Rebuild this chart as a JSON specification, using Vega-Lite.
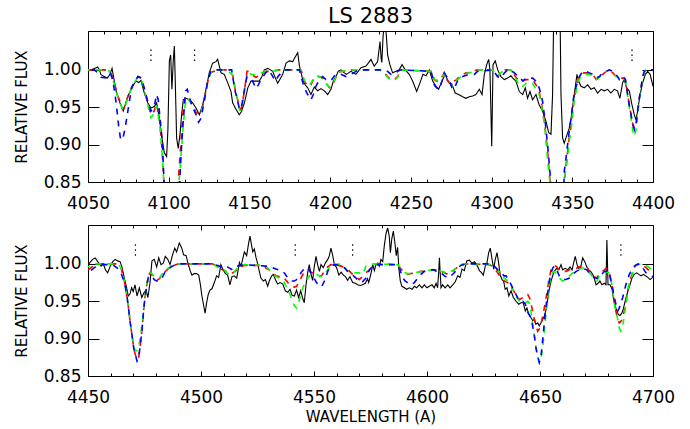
{
"$schema": "https://vega.github.io/schema/vega-lite/v6.json",
"background": "white",
"padding": {"left": 13, "top": 6, "right": 5, "bottom": 0},
"title": {"text": "LS 2883", "fontSize": 21, "font": "DejaVu Sans", "fontWeight": "normal", "color": "black", "offset": 3, "anchor": "middle", "frame": "group"},
"config": {"view": {"stroke": "black", "strokeWidth": 1}},
"bounds": "flush",
"spacing": 43,
"datasets": {
"tObs": [
{"w":4050,"f":1.0},{"w":4052,"f":1.0},{"w":4054,"f":1.002},{"w":4056,"f":1.004},{"w":4057,"f":1.0},{"w":4058,"f":0.994},{"w":4060,"f":0.991},{"w":4062,"f":0.989},{"w":4063.6,"f":0.994},{"w":4064.9,"f":1.002},{"w":4066.3,"f":0.985},{"w":4067.7,"f":0.969},{"w":4069.8,"f":0.956},{"w":4071.9,"f":0.945},{"w":4074,"f":0.96},{"w":4075.6,"f":0.969},{"w":4077.7,"f":0.978},{"w":4079.7,"f":0.985},{"w":4081.4,"f":0.983},{"w":4082.8,"f":0.986},{"w":4084.9,"f":0.969},{"w":4087,"f":0.956},{"w":4089,"f":0.949},{"w":4091.1,"f":0.951},{"w":4092.5,"f":0.956},{"w":4094.2,"f":0.936},{"w":4095.8,"f":0.909},{"w":4097.3,"f":0.889},{"w":4098.7,"f":0.884},{"w":4099.5,"f":0.92},{"w":4100.4,"f":1.012},{"w":4101.2,"f":1.02},{"w":4102,"f":0.974},{"w":4102.8,"f":1.012},{"w":4103.5,"f":1.032},{"w":4104,"f":0.99},{"w":4104.9,"f":0.909},{"w":4105.9,"f":0.895},{"w":4107,"f":0.914},{"w":4108,"f":0.94},{"w":4109,"f":0.96},{"w":4110.7,"f":0.962},{"w":4112.7,"f":0.96},{"w":4114.8,"f":0.956},{"w":4116.9,"f":0.949},{"w":4119,"f":0.94},{"w":4121,"f":0.953},{"w":4123.1,"f":0.974},{"w":4125.1,"f":0.996},{"w":4127.2,"f":1.009},{"w":4129.3,"f":1.011},{"w":4130.3,"f":1.014},{"w":4132.4,"f":0.996},{"w":4134.4,"f":0.994},{"w":4136.5,"f":0.983},{"w":4138.6,"f":0.971},{"w":4139.6,"f":0.956},{"w":4141.5,"f":0.948},{"w":4143.7,"f":0.94},{"w":4145,"f":0.944},{"w":4146.9,"f":0.956},{"w":4149,"f":0.976},{"w":4151,"f":0.985},{"w":4153,"f":0.985},{"w":4156.1,"f":0.985},{"w":4157.5,"f":0.99},{"w":4159.2,"f":1.0},{"w":4161.3,"f":1.002},{"w":4163,"f":1.0},{"w":4164.4,"f":0.998},{"w":4166.5,"f":0.987},{"w":4167.5,"f":0.982},{"w":4169.1,"f":0.988},{"w":4170.6,"f":0.994},{"w":4172.7,"f":1.009},{"w":4174.7,"f":1.012},{"w":4176.8,"f":1.011},{"w":4178,"f":1.016},{"w":4179.9,"f":1.023},{"w":4181,"f":1.005},{"w":4183,"f":0.987},{"w":4184.5,"f":0.98},{"w":4186.1,"f":0.976},{"w":4188.1,"f":0.967},{"w":4190.2,"f":0.977},{"w":4192.3,"f":0.972},{"w":4194.3,"f":0.975},{"w":4196.4,"f":0.972},{"w":4198.5,"f":0.967},{"w":4200.5,"f":0.974},{"w":4202,"f":0.985},{"w":4203.6,"f":0.991},{"w":4205,"f":0.998},{"w":4206.7,"f":1.0},{"w":4208.8,"f":0.996},{"w":4210,"f":0.994},{"w":4212.9,"f":0.998},{"w":4216,"f":0.994},{"w":4219.1,"f":1.003},{"w":4222.2,"f":1.005},{"w":4224,"f":1.01},{"w":4225.3,"f":1.014},{"w":4227.3,"f":1.005},{"w":4229.4,"f":1.011},{"w":4230.9,"f":1.038},{"w":4231.6,"f":1.015},{"w":4232,"f":1.01},{"w":4232.8,"f":1.045},{"w":4233.5,"f":1.06},{"w":4234.3,"f":1.06},{"w":4235,"f":1.04},{"w":4235.6,"f":1.02},{"w":4237,"f":1.007},{"w":4238.7,"f":0.996},{"w":4240.8,"f":0.998},{"w":4242.8,"f":1.0},{"w":4244.5,"f":1.007},{"w":4246.6,"f":1.0},{"w":4249,"f":0.994},{"w":4251.1,"f":0.985},{"w":4253.6,"f":0.971},{"w":4255.7,"f":0.983},{"w":4257.5,"f":0.994},{"w":4259.4,"f":0.992},{"w":4261.4,"f":1.0},{"w":4263.5,"f":0.985},{"w":4265.6,"f":0.978},{"w":4267.2,"f":0.974},{"w":4269.3,"f":0.985},{"w":4271.3,"f":0.994},{"w":4273.4,"f":0.983},{"w":4275.4,"f":0.981},{"w":4277.5,"f":0.969},{"w":4279.6,"f":0.967},{"w":4282.1,"f":0.964},{"w":4284.1,"f":0.962},{"w":4286.2,"f":0.964},{"w":4288.3,"f":0.965},{"w":4290.3,"f":0.967},{"w":4292.4,"f":0.974},{"w":4294.1,"f":0.967},{"w":4295.5,"f":0.994},{"w":4297,"f":1.007},{"w":4298.2,"f":1.014},{"w":4299,"f":1.0},{"w":4300.1,"f":0.898},{"w":4300.9,"f":1.007},{"w":4302.3,"f":1.012},{"w":4303.8,"f":1.0},{"w":4305.8,"f":0.991},{"w":4307.9,"f":0.987},{"w":4310,"f":0.989},{"w":4312,"f":0.992},{"w":4313.1,"f":0.989},{"w":4315.1,"f":0.985},{"w":4317.2,"f":0.971},{"w":4319.3,"f":0.967},{"w":4320.9,"f":0.976},{"w":4322.3,"f":0.962},{"w":4323.8,"f":0.971},{"w":4325.4,"f":0.96},{"w":4327.5,"f":0.967},{"w":4329.5,"f":0.953},{"w":4331.6,"f":0.945},{"w":4333.7,"f":0.931},{"w":4335.4,"f":0.916},{"w":4336.8,"f":0.914},{"w":4337.8,"f":0.967},{"w":4338.4,"f":1.06},{"w":4339,"f":1.1},{"w":4342,"f":1.1},{"w":4342.5,"f":1.06},{"w":4343,"f":0.967},{"w":4344,"f":0.909},{"w":4345,"f":0.902},{"w":4346.7,"f":0.913},{"w":4348.1,"f":0.922},{"w":4349.6,"f":0.94},{"w":4350.8,"f":0.96},{"w":4351.8,"f":0.976},{"w":4352.9,"f":0.994},{"w":4353.9,"f":0.985},{"w":4355.4,"f":0.978},{"w":4357.4,"f":0.976},{"w":4359.5,"f":0.98},{"w":4361.6,"f":0.974},{"w":4363.6,"f":0.976},{"w":4365.7,"f":0.969},{"w":4367.8,"f":0.974},{"w":4369.8,"f":0.972},{"w":4371.9,"f":0.974},{"w":4373.9,"f":0.969},{"w":4376,"f":0.974},{"w":4378,"f":0.972},{"w":4379.5,"f":0.962},{"w":4381.2,"f":0.983},{"w":4382.2,"f":0.987},{"w":4383.6,"f":0.976},{"w":4385.3,"f":0.972},{"w":4387,"f":0.953},{"w":4388.4,"f":0.94},{"w":4389.4,"f":0.933},{"w":4390.5,"f":0.945},{"w":4391.5,"f":0.96},{"w":4392.6,"f":0.973},{"w":4393.6,"f":0.983},{"w":4395.3,"f":0.994},{"w":4396.7,"f":0.998},{"w":4398.2,"f":0.994},{"w":4399.8,"f":0.98},{"w":4400,"f":0.978}
],
"tRed": [
{"w":4050,"f":1.0},{"w":4060,"f":1.0},{"w":4063,"f":0.999},{"w":4065,"f":0.992},{"w":4066,"f":0.985},{"w":4068,"f":0.969},{"w":4070,"f":0.956},{"w":4071.5,"f":0.947},{"w":4073,"f":0.951},{"w":4075,"f":0.967},{"w":4077,"f":0.976},{"w":4079,"f":0.985},{"w":4081,"f":0.991},{"w":4083,"f":0.989},{"w":4085,"f":0.974},{"w":4087,"f":0.956},{"w":4089,"f":0.94},{"w":4091,"f":0.945},{"w":4092.5,"f":0.955},{"w":4094.5,"f":0.93},{"w":4096,"f":0.89},{"w":4097,"f":0.85},{"w":4098,"f":0.8},{"w":4100,"f":0.7},{"w":4103,"f":0.7},{"w":4105,"f":0.8},{"w":4105.8,"f":0.85},{"w":4106.5,"f":0.87},{"w":4107.5,"f":0.9},{"w":4108.5,"f":0.935},{"w":4109.5,"f":0.955},{"w":4110.7,"f":0.965},{"w":4112,"f":0.962},{"w":4115,"f":0.953},{"w":4117,"f":0.943},{"w":4118.5,"f":0.942},{"w":4120,"f":0.943},{"w":4122,"f":0.96},{"w":4124,"f":0.983},{"w":4126,"f":0.996},{"w":4128,"f":0.998},{"w":4132,"f":1.0},{"w":4136,"f":1.0},{"w":4139.6,"f":0.993},{"w":4141.2,"f":0.973},{"w":4142.7,"f":0.96},{"w":4143.7,"f":0.949},{"w":4144.8,"f":0.947},{"w":4146,"f":0.96},{"w":4147.4,"f":0.98},{"w":4148.5,"f":0.998},{"w":4149.5,"f":0.998},{"w":4151,"f":0.994},{"w":4154,"f":0.99},{"w":4157,"f":0.994},{"w":4160,"f":0.998},{"w":4164,"f":0.998},{"w":4168,"f":1.0},{"w":4182,"f":1.0},{"w":4184,"f":0.985},{"w":4186.1,"f":0.978},{"w":4188.1,"f":0.98},{"w":4189.6,"f":0.987},{"w":4191.2,"f":0.991},{"w":4193.3,"f":0.991},{"w":4195.4,"f":0.989},{"w":4197.4,"f":0.983},{"w":4199.5,"f":0.976},{"w":4201.2,"f":0.978},{"w":4203,"f":0.987},{"w":4204.7,"f":0.996},{"w":4207,"f":0.998},{"w":4210,"f":0.998},{"w":4213,"f":1.0},{"w":4231,"f":1.0},{"w":4233.5,"f":0.996},{"w":4235.6,"f":0.991},{"w":4237.7,"f":0.987},{"w":4239.8,"f":0.987},{"w":4241.8,"f":0.991},{"w":4244,"f":1.0},{"w":4262.5,"f":0.998},{"w":4264.5,"f":0.987},{"w":4266,"f":0.985},{"w":4267.6,"f":0.985},{"w":4269.3,"f":0.991},{"w":4270.7,"f":0.996},{"w":4272.2,"f":0.987},{"w":4273.8,"f":0.983},{"w":4275.5,"f":0.98},{"w":4276.9,"f":0.985},{"w":4278.4,"f":0.987},{"w":4280,"f":0.991},{"w":4284.2,"f":0.996},{"w":4288,"f":0.997},{"w":4291,"f":1.0},{"w":4300.7,"f":1.0},{"w":4301.7,"f":0.996},{"w":4303.8,"f":0.991},{"w":4305.8,"f":0.996},{"w":4308,"f":1.0},{"w":4312,"f":1.0},{"w":4315.1,"f":0.99},{"w":4317.2,"f":0.985},{"w":4319.3,"f":0.985},{"w":4321.3,"f":0.987},{"w":4323.4,"f":0.987},{"w":4325.4,"f":0.987},{"w":4327.5,"f":0.98},{"w":4329.5,"f":0.971},{"w":4331.6,"f":0.947},{"w":4333.2,"f":0.922},{"w":4334.7,"f":0.891},{"w":4335.7,"f":0.864},{"w":4336.3,"f":0.85},{"w":4337.5,"f":0.8},{"w":4339.5,"f":0.7},{"w":4342.5,"f":0.7},{"w":4344,"f":0.8},{"w":4345,"f":0.85},{"w":4346,"f":0.87},{"w":4347.1,"f":0.89},{"w":4348.1,"f":0.91},{"w":4349.2,"f":0.925},{"w":4350.2,"f":0.945},{"w":4351.2,"f":0.962},{"w":4352.7,"f":0.978},{"w":4354.4,"f":0.991},{"w":4356.5,"f":0.996},{"w":4358.5,"f":0.996},{"w":4360.6,"f":0.996},{"w":4362.7,"f":0.994},{"w":4364.8,"f":0.987},{"w":4366.8,"f":0.989},{"w":4368.9,"f":0.994},{"w":4371,"f":0.998},{"w":4373,"f":1.0},{"w":4375.1,"f":0.996},{"w":4377.1,"f":0.991},{"w":4379.2,"f":0.989},{"w":4381.7,"f":0.989},{"w":4382.9,"f":0.987},{"w":4384.3,"f":0.967},{"w":4385.3,"f":0.953},{"w":4386.4,"f":0.94},{"w":4387.5,"f":0.927},{"w":4388.5,"f":0.922},{"w":4389.5,"f":0.927},{"w":4390.5,"f":0.945},{"w":4391.5,"f":0.962},{"w":4392.6,"f":0.976},{"w":4393.6,"f":0.991},{"w":4394.7,"f":0.998},{"w":4395.7,"f":1.0},{"w":4400,"f":1.0}
],
"tGreen": [
{"w":4050,"f":1.0},{"w":4060,"f":1.0},{"w":4063,"f":0.999},{"w":4065,"f":0.99},{"w":4066,"f":0.983},{"w":4068,"f":0.967},{"w":4070,"f":0.955},{"w":4071.5,"f":0.947},{"w":4073,"f":0.951},{"w":4075,"f":0.965},{"w":4077,"f":0.975},{"w":4079,"f":0.984},{"w":4081,"f":0.99},{"w":4083,"f":0.988},{"w":4085,"f":0.972},{"w":4087,"f":0.953},{"w":4089,"f":0.936},{"w":4091,"f":0.942},{"w":4092.5,"f":0.952},{"w":4094.5,"f":0.925},{"w":4096,"f":0.885},{"w":4097,"f":0.85},{"w":4098,"f":0.8},{"w":4100,"f":0.7},{"w":4103.5,"f":0.7},{"w":4105.5,"f":0.8},{"w":4106.3,"f":0.85},{"w":4107,"f":0.865},{"w":4108,"f":0.895},{"w":4109,"f":0.925},{"w":4110,"f":0.95},{"w":4111,"f":0.962},{"w":4112.5,"f":0.96},{"w":4115,"f":0.95},{"w":4117,"f":0.94},{"w":4118.5,"f":0.94},{"w":4120,"f":0.943},{"w":4122,"f":0.958},{"w":4124,"f":0.981},{"w":4126,"f":0.996},{"w":4128,"f":0.999},{"w":4130,"f":1.0},{"w":4136,"f":1.0},{"w":4139.6,"f":0.993},{"w":4141.2,"f":0.975},{"w":4142.7,"f":0.96},{"w":4143.7,"f":0.947},{"w":4144.8,"f":0.945},{"w":4146,"f":0.958},{"w":4147.4,"f":0.978},{"w":4148.5,"f":0.995},{"w":4149.5,"f":0.997},{"w":4151,"f":0.994},{"w":4154,"f":0.993},{"w":4157,"f":0.996},{"w":4160,"f":0.998},{"w":4164,"f":0.998},{"w":4168,"f":1.0},{"w":4182,"f":1.0},{"w":4184,"f":0.986},{"w":4186.1,"f":0.979},{"w":4188.1,"f":0.982},{"w":4189.6,"f":0.988},{"w":4191.2,"f":0.992},{"w":4193.3,"f":0.991},{"w":4195.4,"f":0.988},{"w":4197.4,"f":0.982},{"w":4199.5,"f":0.977},{"w":4201.2,"f":0.98},{"w":4203,"f":0.988},{"w":4204.7,"f":0.996},{"w":4207,"f":0.998},{"w":4213,"f":1.0},{"w":4231,"f":1.0},{"w":4233.5,"f":0.996},{"w":4235.6,"f":0.99},{"w":4237.7,"f":0.986},{"w":4239.8,"f":0.986},{"w":4241.8,"f":0.99},{"w":4244,"f":1.0},{"w":4262.5,"f":0.998},{"w":4263.5,"f":0.991},{"w":4265,"f":0.987},{"w":4266,"f":0.986},{"w":4267.6,"f":0.987},{"w":4269.3,"f":0.991},{"w":4270.7,"f":0.994},{"w":4272.2,"f":0.988},{"w":4273.8,"f":0.983},{"w":4275.5,"f":0.978},{"w":4276.9,"f":0.982},{"w":4278.4,"f":0.986},{"w":4280,"f":0.989},{"w":4284.2,"f":0.995},{"w":4288,"f":0.997},{"w":4291,"f":1.0},{"w":4300.7,"f":1.0},{"w":4301.7,"f":0.996},{"w":4303.8,"f":0.992},{"w":4305.8,"f":0.996},{"w":4308,"f":1.0},{"w":4312,"f":1.0},{"w":4313,"f":0.996},{"w":4315.1,"f":0.988},{"w":4317.2,"f":0.978},{"w":4319.3,"f":0.978},{"w":4321.3,"f":0.982},{"w":4323.4,"f":0.984},{"w":4325.4,"f":0.982},{"w":4327.5,"f":0.974},{"w":4329.5,"f":0.967},{"w":4331.6,"f":0.945},{"w":4333.2,"f":0.918},{"w":4334.7,"f":0.878},{"w":4335.7,"f":0.86},{"w":4336.3,"f":0.845},{"w":4337.5,"f":0.8},{"w":4339.5,"f":0.7},{"w":4342.5,"f":0.7},{"w":4344.3,"f":0.8},{"w":4345,"f":0.855},{"w":4346,"f":0.866},{"w":4347.1,"f":0.882},{"w":4348.1,"f":0.904},{"w":4349.2,"f":0.918},{"w":4350.2,"f":0.94},{"w":4351.2,"f":0.96},{"w":4352.7,"f":0.975},{"w":4354.4,"f":0.988},{"w":4356.5,"f":0.994},{"w":4358.5,"f":0.994},{"w":4360.6,"f":0.994},{"w":4362.7,"f":0.991},{"w":4364.8,"f":0.987},{"w":4366.8,"f":0.99},{"w":4368.9,"f":0.995},{"w":4371,"f":0.998},{"w":4373,"f":1.0},{"w":4375.1,"f":0.996},{"w":4377.1,"f":0.991},{"w":4379.2,"f":0.989},{"w":4381.7,"f":0.989},{"w":4382.9,"f":0.986},{"w":4384.3,"f":0.965},{"w":4385.3,"f":0.95},{"w":4386.4,"f":0.935},{"w":4387.5,"f":0.918},{"w":4388.5,"f":0.911},{"w":4389.5,"f":0.92},{"w":4390.5,"f":0.94},{"w":4391.5,"f":0.96},{"w":4392.6,"f":0.975},{"w":4393.6,"f":0.99},{"w":4394.7,"f":0.998},{"w":4395.7,"f":1.0},{"w":4400,"f":1.0}
],
"tBlue": [
{"w":4050,"f":1.0},{"w":4054,"f":1.0},{"w":4056,"f":0.996},{"w":4058,"f":0.99},{"w":4062,"f":0.989},{"w":4064,"f":0.995},{"w":4065.5,"f":0.985},{"w":4067.5,"f":0.955},{"w":4069,"f":0.925},{"w":4070.2,"f":0.907},{"w":4071.5,"f":0.907},{"w":4073,"f":0.922},{"w":4075,"f":0.949},{"w":4077,"f":0.976},{"w":4079,"f":0.985},{"w":4081,"f":0.991},{"w":4083,"f":0.989},{"w":4085,"f":0.974},{"w":4087,"f":0.958},{"w":4089,"f":0.945},{"w":4091,"f":0.951},{"w":4092.5,"f":0.967},{"w":4093.5,"f":0.96},{"w":4094.5,"f":0.938},{"w":4096,"f":0.905},{"w":4097,"f":0.855},{"w":4098,"f":0.8},{"w":4100,"f":0.7},{"w":4104,"f":0.7},{"w":4106,"f":0.8},{"w":4106.8,"f":0.85},{"w":4107.5,"f":0.88},{"w":4108.3,"f":0.91},{"w":4109.3,"f":0.94},{"w":4110.5,"f":0.972},{"w":4111.5,"f":0.974},{"w":4113,"f":0.962},{"w":4115,"f":0.949},{"w":4117,"f":0.94},{"w":4118.5,"f":0.93},{"w":4120,"f":0.935},{"w":4122,"f":0.958},{"w":4124,"f":0.983},{"w":4126,"f":0.998},{"w":4128,"f":1.0},{"w":4139,"f":1.0},{"w":4139.6,"f":0.991},{"w":4141.2,"f":0.971},{"w":4142.7,"f":0.958},{"w":4143.7,"f":0.949},{"w":4144.8,"f":0.947},{"w":4146,"f":0.962},{"w":4147.4,"f":0.98},{"w":4148.5,"f":0.991},{"w":4150,"f":0.989},{"w":4152,"f":0.985},{"w":4154,"f":0.975},{"w":4155.5,"f":0.98},{"w":4157.2,"f":0.987},{"w":4160,"f":0.996},{"w":4162,"f":1.0},{"w":4164.8,"f":0.99},{"w":4166,"f":0.985},{"w":4168,"f":0.992},{"w":4171.5,"f":1.0},{"w":4181,"f":1.0},{"w":4182,"f":0.991},{"w":4184,"f":0.976},{"w":4186.1,"f":0.967},{"w":4188.1,"f":0.96},{"w":4189.6,"f":0.967},{"w":4191.2,"f":0.978},{"w":4193.3,"f":0.987},{"w":4195.4,"f":0.991},{"w":4197.4,"f":0.987},{"w":4199.5,"f":0.985},{"w":4201,"f":0.987},{"w":4203,"f":0.993},{"w":4206.7,"f":0.994},{"w":4209.8,"f":0.991},{"w":4213,"f":0.994},{"w":4216,"f":0.998},{"w":4219,"f":1.0},{"w":4233,"f":1.0},{"w":4235.6,"f":0.998},{"w":4237.7,"f":0.994},{"w":4239.8,"f":0.994},{"w":4241.8,"f":0.998},{"w":4244,"f":1.0},{"w":4262.5,"f":0.998},{"w":4263.5,"f":0.99},{"w":4264.5,"f":0.98},{"w":4266,"f":0.976},{"w":4267.6,"f":0.974},{"w":4269.3,"f":0.985},{"w":4270.7,"f":0.996},{"w":4272.2,"f":0.991},{"w":4273.8,"f":0.985},{"w":4275.5,"f":0.976},{"w":4276.9,"f":0.974},{"w":4278.4,"f":0.983},{"w":4280,"f":0.989},{"w":4282.1,"f":0.991},{"w":4286.2,"f":0.994},{"w":4289.3,"f":0.994},{"w":4291.3,"f":0.998},{"w":4300.7,"f":1.0},{"w":4303.8,"f":0.991},{"w":4305.8,"f":0.989},{"w":4308,"f":0.996},{"w":4310,"f":1.0},{"w":4312,"f":1.0},{"w":4313,"f":0.998},{"w":4315.1,"f":0.994},{"w":4317.2,"f":0.991},{"w":4319.3,"f":0.985},{"w":4321.3,"f":0.989},{"w":4323.4,"f":0.989},{"w":4325.4,"f":0.989},{"w":4327.5,"f":0.985},{"w":4329.5,"f":0.976},{"w":4331.6,"f":0.958},{"w":4333.2,"f":0.931},{"w":4334.7,"f":0.9},{"w":4335.7,"f":0.875},{"w":4336.5,"f":0.855},{"w":4337.5,"f":0.8},{"w":4339.5,"f":0.7},{"w":4343,"f":0.7},{"w":4344.3,"f":0.8},{"w":4345,"f":0.864},{"w":4346,"f":0.88},{"w":4347.1,"f":0.9},{"w":4348.1,"f":0.918},{"w":4349.2,"f":0.934},{"w":4350.2,"f":0.953},{"w":4351.2,"f":0.969},{"w":4352.7,"f":0.98},{"w":4354.4,"f":0.991},{"w":4356.5,"f":0.998},{"w":4358.5,"f":0.998},{"w":4360.6,"f":0.996},{"w":4362.7,"f":0.994},{"w":4364.8,"f":0.989},{"w":4366.8,"f":0.991},{"w":4368.9,"f":0.996},{"w":4371,"f":0.998},{"w":4373,"f":1.0},{"w":4375.1,"f":0.998},{"w":4377.1,"f":0.994},{"w":4379.2,"f":0.987},{"w":4380.2,"f":0.987},{"w":4381.7,"f":0.991},{"w":4382.9,"f":0.987},{"w":4384.3,"f":0.967},{"w":4385.3,"f":0.953},{"w":4386.4,"f":0.94},{"w":4387.5,"f":0.927},{"w":4388.5,"f":0.92},{"w":4389.5,"f":0.927},{"w":4390.5,"f":0.945},{"w":4391.5,"f":0.962},{"w":4392.6,"f":0.976},{"w":4393.6,"f":0.991},{"w":4394.7,"f":0.998},{"w":4395.7,"f":1.0},{"w":4400,"f":1.0}
],
"tMark": [{"w":4089,"lo":1.012,"hi":1.028},{"w":4116,"lo":1.012,"hi":1.028},{"w":4387,"lo":1.012,"hi":1.028}],
"bObs": [
{"w":4450,"f":0.999},{"w":4450.9,"f":1.002},{"w":4452.1,"f":1.006},{"w":4453.2,"f":1.008},{"w":4454.3,"f":1.003},{"w":4455.8,"f":0.997},{"w":4456.8,"f":1.0},{"w":4457.7,"f":0.992},{"w":4458.7,"f":0.988},{"w":4459.7,"f":0.996},{"w":4460.9,"f":1.003},{"w":4462.1,"f":1.006},{"w":4463.1,"f":1.004},{"w":4464.2,"f":1.003},{"w":4465,"f":0.996},{"w":4466.1,"f":0.981},{"w":4467.1,"f":0.968},{"w":4467.8,"f":0.957},{"w":4468.6,"f":0.96},{"w":4469.3,"f":0.968},{"w":4470,"f":0.963},{"w":4470.8,"f":0.972},{"w":4471.7,"f":0.957},{"w":4472.7,"f":0.968},{"w":4473.8,"f":0.955},{"w":4474.7,"f":0.961},{"w":4475.7,"f":0.965},{"w":4476.5,"f":0.955},{"w":4477.4,"f":0.974},{"w":4478.3,"f":1.004},{"w":4479.3,"f":1.006},{"w":4480.4,"f":0.996},{"w":4481.3,"f":1.008},{"w":4482.3,"f":0.999},{"w":4483.3,"f":1.001},{"w":4484.2,"f":1.01},{"w":4485.3,"f":1.006},{"w":4486.3,"f":0.999},{"w":4487.5,"f":1.013},{"w":4488.4,"f":1.021},{"w":4489.2,"f":1.016},{"w":4490.4,"f":1.028},{"w":4491.5,"f":1.021},{"w":4492.3,"f":1.012},{"w":4493.4,"f":1.011},{"w":4494.4,"f":0.999},{"w":4495.3,"f":0.99},{"w":4496,"f":0.985},{"w":4497,"f":0.987},{"w":4498.1,"f":0.987},{"w":4499,"f":0.985},{"w":4499.7,"f":0.973},{"w":4500.4,"f":0.957},{"w":4501.2,"f":0.944},{"w":4501.8,"f":0.934},{"w":4502.5,"f":0.948},{"w":4503.2,"f":0.959},{"w":4504,"f":0.965},{"w":4504.9,"f":0.967},{"w":4505.9,"f":0.975},{"w":4506.9,"f":0.984},{"w":4507.8,"f":0.982},{"w":4508.8,"f":0.999},{"w":4509.8,"f":0.992},{"w":4510.8,"f":0.987},{"w":4511.8,"f":0.985},{"w":4512.8,"f":0.972},{"w":4513.7,"f":0.983},{"w":4514.7,"f":0.984},{"w":4515.8,"f":0.981},{"w":4517,"f":1.002},{"w":4517.7,"f":0.997},{"w":4518.5,"f":1.007},{"w":4519.2,"f":1.016},{"w":4520.2,"f":1.011},{"w":4521.1,"f":1.028},{"w":4521.7,"f":1.037},{"w":4522.3,"f":1.026},{"w":4522.9,"f":1.016},{"w":4523.6,"f":1.02},{"w":4524.3,"f":1.009},{"w":4525.1,"f":1.0},{"w":4525.8,"f":0.99},{"w":4526.5,"f":0.981},{"w":4527.6,"f":0.977},{"w":4528.5,"f":0.979},{"w":4529.5,"f":0.97},{"w":4530.2,"f":0.977},{"w":4531.3,"f":0.984},{"w":4532,"f":0.986},{"w":4532.9,"f":0.979},{"w":4533.9,"f":0.973},{"w":4535,"f":0.975},{"w":4536.2,"f":0.973},{"w":4537.3,"f":0.964},{"w":4538.4,"f":0.962},{"w":4539.4,"f":0.966},{"w":4540.3,"f":0.958},{"w":4541.3,"f":0.957},{"w":4542.3,"f":0.965},{"w":4543.2,"f":0.955},{"w":4544.1,"f":0.964},{"w":4545,"f":0.954},{"w":4545.7,"f":0.948},{"w":4546.5,"f":0.973},{"w":4547.2,"f":0.988},{"w":4547.9,"f":0.999},{"w":4548.7,"f":0.986},{"w":4549.4,"f":0.978},{"w":4550.1,"f":0.996},{"w":4550.9,"f":1.01},{"w":4551.6,"f":0.999},{"w":4552.4,"f":0.99},{"w":4553.1,"f":0.999},{"w":4554.1,"f":0.995},{"w":4555,"f":1.001},{"w":4556.1,"f":1.006},{"w":4556.8,"f":1.011},{"w":4557.5,"f":1.021},{"w":4558.3,"f":1.011},{"w":4559,"f":0.999},{"w":4560,"f":0.995},{"w":4561,"f":0.985},{"w":4562,"f":0.989},{"w":4563,"f":0.985},{"w":4563.9,"f":0.983},{"w":4564.9,"f":0.978},{"w":4565.9,"f":0.983},{"w":4567.1,"f":0.975},{"w":4568.3,"f":0.974},{"w":4569.3,"f":0.972},{"w":4570.4,"f":0.971},{"w":4571.5,"f":0.972},{"w":4572.7,"f":0.974},{"w":4573.7,"f":0.98},{"w":4574.2,"f":0.975},{"w":4575.2,"f":0.987},{"w":4576,"f":0.999},{"w":4576.7,"f":0.991},{"w":4577.4,"f":0.999},{"w":4578.2,"f":1.001},{"w":4578.9,"f":0.997},{"w":4579.6,"f":1.006},{"w":4580.4,"f":1.003},{"w":4581.1,"f":1.024},{"w":4581.9,"f":1.041},{"w":4582.6,"f":1.048},{"w":4583.3,"f":1.037},{"w":4583.8,"f":1.015},{"w":4584.4,"f":1.033},{"w":4585.1,"f":1.044},{"w":4585.8,"f":1.028},{"w":4586.4,"f":1.011},{"w":4587,"f":1.022},{"w":4587.6,"f":0.992},{"w":4588.2,"f":0.977},{"w":4588.9,"f":0.97},{"w":4590,"f":0.968},{"w":4591,"f":0.966},{"w":4592.2,"f":0.968},{"w":4593.4,"f":0.966},{"w":4594.4,"f":0.97},{"w":4595.4,"f":0.968},{"w":4596.6,"f":0.972},{"w":4597.8,"f":0.968},{"w":4598.8,"f":0.972},{"w":4600,"f":0.968},{"w":4601,"f":0.97},{"w":4602.2,"f":0.972},{"w":4603.2,"f":0.968},{"w":4604,"f":0.974},{"w":4604.7,"f":0.968},{"w":4605.2,"f":0.99},{"w":4605.5,"f":1.008},{"w":4605.8,"f":0.99},{"w":4606.2,"f":0.968},{"w":4606.9,"f":0.972},{"w":4608,"f":0.968},{"w":4609.2,"f":0.972},{"w":4610.2,"f":0.968},{"w":4611.4,"f":0.972},{"w":4612.5,"f":0.976},{"w":4613.6,"f":0.984},{"w":4614.6,"f":0.982},{"w":4615.5,"f":0.993},{"w":4616.5,"f":0.991},{"w":4617.6,"f":1.004},{"w":4618.7,"f":1.005},{"w":4619.9,"f":1.001},{"w":4621,"f":1.003},{"w":4622,"f":0.999},{"w":4623.2,"f":0.991},{"w":4624.2,"f":0.988},{"w":4624.9,"f":0.985},{"w":4625.8,"f":0.997},{"w":4626.5,"f":1.001},{"w":4627.3,"f":1.015},{"w":4628,"f":1.021},{"w":4628.8,"f":1.006},{"w":4629.5,"f":0.993},{"w":4630.2,"f":1.006},{"w":4631,"f":1.015},{"w":4631.7,"f":1.001},{"w":4632.4,"f":0.985},{"w":4633.2,"f":0.979},{"w":4633.9,"f":0.977},{"w":4634.6,"f":0.966},{"w":4635.4,"f":0.968},{"w":4636.2,"f":0.957},{"w":4637.2,"f":0.964},{"w":4638.2,"f":0.955},{"w":4639.4,"f":0.95},{"w":4640.6,"f":0.946},{"w":4641.6,"f":0.948},{"w":4642.6,"f":0.948},{"w":4643.5,"f":0.937},{"w":4644.2,"f":0.941},{"w":4645,"f":0.933},{"w":4646,"f":0.928},{"w":4646.8,"f":0.924},{"w":4647.5,"f":0.926},{"w":4648.2,"f":0.919},{"w":4649,"f":0.921},{"w":4649.7,"f":0.917},{"w":4650.4,"f":0.921},{"w":4651.2,"f":0.926},{"w":4651.9,"f":0.93},{"w":4652.7,"f":0.939},{"w":4653.4,"f":0.952},{"w":4654.1,"f":0.966},{"w":4654.9,"f":0.977},{"w":4655.6,"f":0.984},{"w":4656.3,"f":0.99},{"w":4657.4,"f":0.994},{"w":4658.3,"f":0.992},{"w":4659.3,"f":0.999},{"w":4660,"f":0.992},{"w":4661.2,"f":0.994},{"w":4662.3,"f":0.992},{"w":4663.3,"f":0.996},{"w":4664.2,"f":0.992},{"w":4665,"f":1.003},{"w":4665.6,"f":1.01},{"w":4666.4,"f":0.999},{"w":4667.1,"f":0.994},{"w":4668,"f":0.996},{"w":4668.9,"f":1.008},{"w":4669.8,"f":1.003},{"w":4670.7,"f":0.996},{"w":4671.5,"f":0.992},{"w":4672.4,"f":0.99},{"w":4673.3,"f":0.986},{"w":4674,"f":0.981},{"w":4674.8,"f":0.972},{"w":4675.7,"f":0.974},{"w":4676.5,"f":0.977},{"w":4677.4,"f":0.972},{"w":4678.5,"f":0.974},{"w":4679.2,"f":0.972},{"w":4679.6,"f":1.032},{"w":4680.1,"f":0.972},{"w":4681,"f":0.972},{"w":4681.9,"f":0.966},{"w":4682.4,"f":0.955},{"w":4683.2,"f":0.944},{"w":4684,"f":0.937},{"w":4684.7,"f":0.932},{"w":4685.4,"f":0.931},{"w":4686.2,"f":0.934},{"w":4686.9,"f":0.94},{"w":4687.6,"f":0.949},{"w":4688.4,"f":0.958},{"w":4689.1,"f":0.966},{"w":4689.8,"f":0.972},{"w":4690.7,"f":0.981},{"w":4691.7,"f":0.986},{"w":4692.8,"f":0.988},{"w":4693.7,"f":0.986},{"w":4694.7,"f":0.984},{"w":4695.8,"f":0.986},{"w":4696.6,"f":0.984},{"w":4697.7,"f":0.982},{"w":4698.7,"f":0.979},{"w":4699.9,"f":0.982}
],
"bRed": [
{"w":4450,"f":0.992},{"w":4452.8,"f":0.998},{"w":4455.8,"f":1.0},{"w":4463,"f":1.0},{"w":4464.6,"f":0.995},{"w":4466.1,"f":0.977},{"w":4467.1,"f":0.96},{"w":4468,"f":0.939},{"w":4468.7,"f":0.921},{"w":4469.5,"f":0.904},{"w":4470.2,"f":0.888},{"w":4470.9,"f":0.879},{"w":4471.7,"f":0.872},{"w":4472.4,"f":0.874},{"w":4473.1,"f":0.89},{"w":4473.9,"f":0.912},{"w":4474.5,"f":0.934},{"w":4475.2,"f":0.955},{"w":4476,"f":0.971},{"w":4476.7,"f":0.984},{"w":4477.4,"f":0.988},{"w":4478.3,"f":0.985},{"w":4479.3,"f":0.98},{"w":4480.4,"f":0.978},{"w":4481.5,"f":0.98},{"w":4482.7,"f":0.984},{"w":4483.9,"f":0.989},{"w":4485.3,"f":0.993},{"w":4486.7,"f":0.996},{"w":4488.2,"f":0.998},{"w":4490,"f":1.0},{"w":4505,"f":1.0},{"w":4506.6,"f":0.998},{"w":4508.1,"f":0.994},{"w":4509.6,"f":0.992},{"w":4511,"f":0.99},{"w":4512.5,"f":0.988},{"w":4514,"f":0.988},{"w":4516.2,"f":0.992},{"w":4517.7,"f":0.996},{"w":4519.2,"f":0.998},{"w":4527.3,"f":0.998},{"w":4528.8,"f":0.994},{"w":4530.2,"f":0.992},{"w":4531.7,"f":0.988},{"w":4533.2,"f":0.984},{"w":4534.7,"f":0.983},{"w":4536.2,"f":0.983},{"w":4537.3,"f":0.979},{"w":4538.4,"f":0.975},{"w":4539.4,"f":0.971},{"w":4540.3,"f":0.97},{"w":4541.3,"f":0.969},{"w":4542.3,"f":0.97},{"w":4543.2,"f":0.975},{"w":4544.2,"f":0.981},{"w":4545.3,"f":0.987},{"w":4546.5,"f":0.99},{"w":4547.9,"f":0.99},{"w":4549.4,"f":0.988},{"w":4550.9,"f":0.985},{"w":4552.4,"f":0.983},{"w":4553.5,"f":0.985},{"w":4554.6,"f":0.99},{"w":4556.1,"f":0.996},{"w":4557.5,"f":0.999},{"w":4559.7,"f":0.999},{"w":4562,"f":0.997},{"w":4563.4,"f":0.995},{"w":4564.9,"f":0.993},{"w":4566.4,"f":0.988},{"w":4567.5,"f":0.985},{"w":4568.6,"f":0.983},{"w":4570,"f":0.979},{"w":4571.5,"f":0.983},{"w":4573,"f":0.988},{"w":4574.5,"f":0.992},{"w":4576,"f":0.996},{"w":4577.4,"f":0.999},{"w":4579,"f":1.0},{"w":4587,"f":0.999},{"w":4587.7,"f":0.996},{"w":4588.5,"f":0.993},{"w":4589.3,"f":0.991},{"w":4590.4,"f":0.988},{"w":4591.4,"f":0.986},{"w":4592.9,"f":0.987},{"w":4594.4,"f":0.988},{"w":4595.9,"f":0.989},{"w":4597.3,"f":0.99},{"w":4598.8,"f":0.99},{"w":4600.3,"f":0.991},{"w":4601.8,"f":0.992},{"w":4603.2,"f":0.992},{"w":4604.7,"f":0.992},{"w":4606.2,"f":0.99},{"w":4607.7,"f":0.988},{"w":4609.2,"f":0.986},{"w":4610.6,"f":0.988},{"w":4612.1,"f":0.992},{"w":4613.6,"f":0.996},{"w":4615,"f":0.998},{"w":4617,"f":1.0},{"w":4627.6,"f":0.999},{"w":4628.8,"f":0.997},{"w":4629.8,"f":0.994},{"w":4631.3,"f":0.988},{"w":4632.7,"f":0.981},{"w":4634.2,"f":0.977},{"w":4635.7,"f":0.975},{"w":4636.4,"f":0.972},{"w":4637.9,"f":0.966},{"w":4639.4,"f":0.959},{"w":4640.9,"f":0.952},{"w":4642.4,"f":0.955},{"w":4643.5,"f":0.959},{"w":4644.6,"f":0.959},{"w":4645.6,"f":0.953},{"w":4646.5,"f":0.94},{"w":4647.5,"f":0.926},{"w":4648.2,"f":0.917},{"w":4649,"f":0.91},{"w":4649.7,"f":0.913},{"w":4650.4,"f":0.919},{"w":4651.2,"f":0.93},{"w":4651.9,"f":0.941},{"w":4652.7,"f":0.955},{"w":4653.4,"f":0.968},{"w":4654.1,"f":0.981},{"w":4654.9,"f":0.992},{"w":4655.6,"f":0.997},{"w":4656.3,"f":0.998},{"w":4657.4,"f":0.996},{"w":4658.5,"f":0.992},{"w":4660,"f":0.99},{"w":4661.5,"f":0.99},{"w":4663,"f":0.992},{"w":4664.5,"f":0.994},{"w":4666,"f":0.994},{"w":4667.4,"f":0.996},{"w":4668.9,"f":0.997},{"w":4669.6,"f":0.998},{"w":4670.7,"f":0.996},{"w":4671.8,"f":0.99},{"w":4673,"f":0.986},{"w":4674,"f":0.983},{"w":4675.1,"f":0.981},{"w":4676.2,"f":0.986},{"w":4677.4,"f":0.99},{"w":4678.5,"f":0.992},{"w":4679.2,"f":0.994},{"w":4680.4,"f":0.992},{"w":4681.4,"f":0.979},{"w":4682.2,"f":0.966},{"w":4682.9,"f":0.95},{"w":4683.6,"f":0.936},{"w":4684.4,"f":0.926},{"w":4685.1,"f":0.921},{"w":4685.8,"f":0.923},{"w":4686.6,"f":0.927},{"w":4687.3,"f":0.937},{"w":4688,"f":0.95},{"w":4688.8,"f":0.963},{"w":4689.5,"f":0.975},{"w":4690.7,"f":0.986},{"w":4691.7,"f":0.995},{"w":4692.8,"f":0.999},{"w":4693.9,"f":1.0},{"w":4695.4,"f":0.998},{"w":4696.9,"f":0.995},{"w":4698.3,"f":0.991},{"w":4700,"f":0.987}
],
"bGreen": [
{"w":4450,"f":0.996},{"w":4452.8,"f":1.0},{"w":4463,"f":1.0},{"w":4464.6,"f":0.995},{"w":4466.1,"f":0.977},{"w":4467.1,"f":0.96},{"w":4468,"f":0.939},{"w":4468.7,"f":0.921},{"w":4469.5,"f":0.904},{"w":4470.2,"f":0.889},{"w":4470.9,"f":0.884},{"w":4471.7,"f":0.884},{"w":4472.4,"f":0.89},{"w":4473.1,"f":0.9},{"w":4473.9,"f":0.918},{"w":4474.5,"f":0.936},{"w":4475.2,"f":0.955},{"w":4476,"f":0.971},{"w":4476.7,"f":0.984},{"w":4477.4,"f":0.988},{"w":4478.3,"f":0.987},{"w":4479.3,"f":0.983},{"w":4480.4,"f":0.981},{"w":4481.5,"f":0.981},{"w":4482.7,"f":0.986},{"w":4483.9,"f":0.99},{"w":4485.3,"f":0.994},{"w":4488.2,"f":0.999},{"w":4490,"f":1.0},{"w":4505,"f":1.0},{"w":4506.6,"f":0.997},{"w":4508.1,"f":0.994},{"w":4509.6,"f":0.993},{"w":4511,"f":0.99},{"w":4512.2,"f":0.986},{"w":4514,"f":0.986},{"w":4516.2,"f":0.995},{"w":4517.7,"f":0.997},{"w":4519.2,"f":0.999},{"w":4527.3,"f":0.998},{"w":4528.8,"f":0.997},{"w":4530.2,"f":0.992},{"w":4531.7,"f":0.986},{"w":4533.2,"f":0.983},{"w":4534.7,"f":0.981},{"w":4536.2,"f":0.979},{"w":4537.3,"f":0.972},{"w":4538.4,"f":0.966},{"w":4539.4,"f":0.959},{"w":4540.3,"f":0.95},{"w":4541.3,"f":0.944},{"w":4542.3,"f":0.941},{"w":4543.2,"f":0.948},{"w":4544.2,"f":0.959},{"w":4545.3,"f":0.97},{"w":4546.5,"f":0.977},{"w":4547.9,"f":0.984},{"w":4549.4,"f":0.986},{"w":4550.9,"f":0.986},{"w":4552.4,"f":0.984},{"w":4553.5,"f":0.983},{"w":4554.6,"f":0.986},{"w":4556.1,"f":0.992},{"w":4557.5,"f":0.999},{"w":4562,"f":1.0},{"w":4563.4,"f":0.996},{"w":4564.9,"f":0.99},{"w":4566.4,"f":0.988},{"w":4568.6,"f":0.988},{"w":4570,"f":0.988},{"w":4571.5,"f":0.986},{"w":4573,"f":0.997},{"w":4574.5,"f":0.999},{"w":4576,"f":1.0},{"w":4587,"f":0.999},{"w":4587.7,"f":0.997},{"w":4588.5,"f":0.993},{"w":4589.3,"f":0.991},{"w":4590.4,"f":0.988},{"w":4591.4,"f":0.987},{"w":4592.9,"f":0.987},{"w":4594.4,"f":0.988},{"w":4595.9,"f":0.989},{"w":4597.3,"f":0.99},{"w":4598.8,"f":0.99},{"w":4600.3,"f":0.991},{"w":4603.2,"f":0.993},{"w":4604.7,"f":0.992},{"w":4606.2,"f":0.99},{"w":4607.7,"f":0.989},{"w":4609.2,"f":0.988},{"w":4610.6,"f":0.99},{"w":4612.1,"f":0.992},{"w":4613.6,"f":0.997},{"w":4615,"f":0.999},{"w":4617,"f":1.0},{"w":4627.6,"f":0.999},{"w":4629.8,"f":0.997},{"w":4631.3,"f":0.992},{"w":4632.7,"f":0.986},{"w":4634.2,"f":0.981},{"w":4635.7,"f":0.977},{"w":4637.2,"f":0.972},{"w":4637.9,"f":0.966},{"w":4639.4,"f":0.957},{"w":4640.9,"f":0.95},{"w":4642.4,"f":0.95},{"w":4643.5,"f":0.948},{"w":4644.6,"f":0.95},{"w":4645.6,"f":0.946},{"w":4646.5,"f":0.925},{"w":4647.5,"f":0.904},{"w":4648.2,"f":0.888},{"w":4649,"f":0.877},{"w":4649.7,"f":0.868},{"w":4650.4,"f":0.872},{"w":4651.2,"f":0.888},{"w":4651.9,"f":0.91},{"w":4652.7,"f":0.935},{"w":4653.4,"f":0.955},{"w":4654.1,"f":0.972},{"w":4654.9,"f":0.984},{"w":4655.6,"f":0.988},{"w":4656.3,"f":0.99},{"w":4657.4,"f":0.986},{"w":4658.5,"f":0.981},{"w":4660,"f":0.977},{"w":4661.5,"f":0.979},{"w":4663,"f":0.984},{"w":4664.5,"f":0.988},{"w":4666,"f":0.99},{"w":4668.9,"f":0.995},{"w":4670.7,"f":0.992},{"w":4671.8,"f":0.988},{"w":4673,"f":0.984},{"w":4674,"f":0.981},{"w":4675.1,"f":0.977},{"w":4676.2,"f":0.984},{"w":4677.4,"f":0.988},{"w":4678.5,"f":0.99},{"w":4680.4,"f":0.988},{"w":4681.4,"f":0.979},{"w":4682.2,"f":0.966},{"w":4682.9,"f":0.946},{"w":4683.6,"f":0.936},{"w":4684.4,"f":0.926},{"w":4685.1,"f":0.914},{"w":4685.8,"f":0.91},{"w":4686.6,"f":0.917},{"w":4687.3,"f":0.93},{"w":4688,"f":0.946},{"w":4688.8,"f":0.961},{"w":4689.5,"f":0.974},{"w":4690.7,"f":0.984},{"w":4691.7,"f":0.995},{"w":4692.8,"f":0.999},{"w":4695.4,"f":1.0},{"w":4696.9,"f":0.998},{"w":4698.3,"f":0.995},{"w":4700,"f":0.99}
],
"bBlue": [
{"w":4450,"f":0.988},{"w":4452.8,"f":0.995},{"w":4455.8,"f":0.999},{"w":4461,"f":0.999},{"w":4463.1,"f":0.994},{"w":4464.6,"f":0.988},{"w":4466.1,"f":0.975},{"w":4467.1,"f":0.96},{"w":4468,"f":0.939},{"w":4468.7,"f":0.921},{"w":4469.5,"f":0.904},{"w":4470.2,"f":0.888},{"w":4470.9,"f":0.879},{"w":4471.7,"f":0.87},{"w":4472.4,"f":0.874},{"w":4473.1,"f":0.89},{"w":4473.9,"f":0.912},{"w":4474.5,"f":0.934},{"w":4475.2,"f":0.955},{"w":4476,"f":0.971},{"w":4476.7,"f":0.982},{"w":4478.3,"f":0.984},{"w":4479.3,"f":0.979},{"w":4480.4,"f":0.977},{"w":4481.5,"f":0.977},{"w":4482.7,"f":0.981},{"w":4483.9,"f":0.988},{"w":4485.3,"f":0.993},{"w":4488,"f":0.998},{"w":4490,"f":1.0},{"w":4505,"f":1.0},{"w":4508.1,"f":0.997},{"w":4509.6,"f":0.995},{"w":4511,"f":0.997},{"w":4512.2,"f":0.995},{"w":4514,"f":0.992},{"w":4516.2,"f":0.997},{"w":4519.2,"f":0.999},{"w":4528.8,"f":0.997},{"w":4530.2,"f":0.996},{"w":4531.7,"f":0.995},{"w":4533.2,"f":0.993},{"w":4536.2,"f":0.99},{"w":4537.3,"f":0.986},{"w":4538.4,"f":0.981},{"w":4539.4,"f":0.979},{"w":4540.3,"f":0.977},{"w":4541.3,"f":0.977},{"w":4542.3,"f":0.979},{"w":4543.2,"f":0.981},{"w":4544.2,"f":0.988},{"w":4545.3,"f":0.992},{"w":4546.5,"f":0.996},{"w":4547.9,"f":0.992},{"w":4549.4,"f":0.984},{"w":4550.9,"f":0.976},{"w":4552.4,"f":0.97},{"w":4553.5,"f":0.97},{"w":4554.6,"f":0.977},{"w":4556.1,"f":0.99},{"w":4557.5,"f":0.998},{"w":4559.7,"f":0.999},{"w":4562,"f":0.997},{"w":4563.4,"f":0.995},{"w":4564.9,"f":0.99},{"w":4566.4,"f":0.986},{"w":4567.5,"f":0.984},{"w":4568.6,"f":0.981},{"w":4570,"f":0.976},{"w":4571.5,"f":0.976},{"w":4573,"f":0.981},{"w":4574.5,"f":0.992},{"w":4576,"f":0.997},{"w":4578,"f":0.999},{"w":4587,"f":0.999},{"w":4587.7,"f":0.995},{"w":4588.5,"f":0.988},{"w":4589.3,"f":0.981},{"w":4590.4,"f":0.977},{"w":4591.4,"f":0.975},{"w":4592.9,"f":0.972},{"w":4594.4,"f":0.975},{"w":4595.9,"f":0.981},{"w":4597.3,"f":0.986},{"w":4598.8,"f":0.99},{"w":4600.3,"f":0.992},{"w":4603.2,"f":0.992},{"w":4604.7,"f":0.988},{"w":4606.2,"f":0.988},{"w":4607.7,"f":0.984},{"w":4609.2,"f":0.981},{"w":4610.6,"f":0.984},{"w":4612.1,"f":0.988},{"w":4613.6,"f":0.995},{"w":4615,"f":0.998},{"w":4617,"f":1.0},{"w":4627.6,"f":1.0},{"w":4628.8,"f":0.998},{"w":4629.8,"f":0.997},{"w":4631.3,"f":0.992},{"w":4632.7,"f":0.988},{"w":4634.2,"f":0.984},{"w":4635,"f":0.984},{"w":4636.4,"f":0.977},{"w":4637.9,"f":0.968},{"w":4639.4,"f":0.959},{"w":4640.9,"f":0.95},{"w":4642.4,"f":0.95},{"w":4643.5,"f":0.946},{"w":4644.6,"f":0.935},{"w":4645.6,"f":0.93},{"w":4646.5,"f":0.921},{"w":4647.5,"f":0.904},{"w":4648.2,"f":0.888},{"w":4649,"f":0.875},{"w":4649.7,"f":0.868},{"w":4650.4,"f":0.875},{"w":4651.2,"f":0.899},{"w":4651.9,"f":0.921},{"w":4652.7,"f":0.944},{"w":4653.4,"f":0.961},{"w":4654.1,"f":0.977},{"w":4654.9,"f":0.988},{"w":4655.6,"f":0.994},{"w":4656.3,"f":0.997},{"w":4657.4,"f":0.992},{"w":4658.5,"f":0.984},{"w":4660,"f":0.979},{"w":4661.5,"f":0.979},{"w":4663,"f":0.981},{"w":4664.5,"f":0.986},{"w":4666,"f":0.99},{"w":4667.4,"f":0.992},{"w":4668.9,"f":0.994},{"w":4670.7,"f":0.992},{"w":4671.8,"f":0.988},{"w":4673,"f":0.986},{"w":4674,"f":0.981},{"w":4675.1,"f":0.981},{"w":4676.2,"f":0.981},{"w":4677.4,"f":0.986},{"w":4678.5,"f":0.99},{"w":4680.4,"f":0.99},{"w":4681.4,"f":0.977},{"w":4682.2,"f":0.966},{"w":4682.9,"f":0.955},{"w":4683.6,"f":0.946},{"w":4684.4,"f":0.937},{"w":4685.1,"f":0.941},{"w":4685.8,"f":0.948},{"w":4686.6,"f":0.955},{"w":4687.3,"f":0.964},{"w":4688,"f":0.972},{"w":4688.8,"f":0.979},{"w":4689.5,"f":0.986},{"w":4690.7,"f":0.992},{"w":4691.7,"f":0.997},{"w":4692.8,"f":0.999},{"w":4693.9,"f":1.0},{"w":4695.4,"f":0.995},{"w":4696.9,"f":0.988},{"w":4698.3,"f":0.986},{"w":4700,"f":0.983}
],
"bMark": [{"w":4471,"lo":1.011,"hi":1.027},{"w":4541.7,"lo":1.011,"hi":1.027},{"w":4567.1,"lo":1.011,"hi":1.027},{"w":4685.8,"lo":1.011,"hi":1.027}]
},
"vconcat": [
{
"width": 565, "height": 151,
"resolve": {"axis": {"x": "independent", "y": "independent"}},
"layer": [
{"data": {"name": "tObs"}, "mark": {"type": "line", "color": "black", "strokeWidth": 1.1, "clip": true},
 "encoding": {
  "x": {"field": "w", "type": "quantitative", "scale": {"domain": [4050, 4400], "nice": false, "zero": false},
   "axis": {"orient": "bottom", "values": [4050,4060,4070,4080,4090,4100,4110,4120,4130,4140,4150,4160,4170,4180,4190,4200,4210,4220,4230,4240,4250,4260,4270,4280,4290,4300,4310,4320,4330,4340,4350,4360,4370,4380,4390,4400], "format": "d", "labelExpr": "datum.value % 50 === 0 ? datum.label : ''", "tickSize": {"condition": {"test": "datum.value % 50 === 0", "value": -5}, "value": -3}, "tickColor": "black", "domain": false, "grid": false, "title": null, "labelFont": "DejaVu Sans", "labelFontSize": 17, "labelColor": "black", "labelPadding": 18, "labelFlush": false, "labelOverlap": false}},
  "y": {"field": "f", "type": "quantitative", "scale": {"domain": [0.85, 1.052], "nice": false, "zero": false},
   "axis": {"orient": "left", "values": [0.85, 0.9, 0.95, 1.0], "format": ".2f", "tickSize": -11, "tickColor": "black", "domain": false, "grid": false, "title": "RELATIVE FLUX", "titleFont": "DejaVu Sans", "titleFontSize": 15, "titleFontWeight": "normal", "titleColor": "black", "titlePadding": 14, "labelFont": "DejaVu Sans", "labelFontSize": 17, "labelColor": "black", "labelPadding": 18, "labelFlush": false, "labelOverlap": false}}
 }},
{"data": {"name": "tRed"}, "mark": {"type": "line", "color": "#ff0000", "strokeWidth": 1.6, "strokeDash": [6, 6], "strokeDashOffset": 0, "clip": true},
 "encoding": {
  "x": {"field": "w", "type": "quantitative", "scale": {"domain": [4050, 4400], "nice": false, "zero": false},
   "axis": {"orient": "top", "values": [4050,4060,4070,4080,4090,4100,4110,4120,4130,4140,4150,4160,4170,4180,4190,4200,4210,4220,4230,4240,4250,4260,4270,4280,4290,4300,4310,4320,4330,4340,4350,4360,4370,4380,4390,4400], "labels": false, "tickSize": {"condition": {"test": "datum.value % 50 === 0", "value": -5}, "value": -3}, "tickColor": "black", "domain": false, "grid": false, "title": null}},
  "y": {"field": "f", "type": "quantitative", "scale": {"domain": [0.85, 1.052], "nice": false, "zero": false},
   "axis": {"orient": "right", "values": [0.85, 0.9, 0.95, 1.0], "labels": false, "tickSize": -11, "tickColor": "black", "domain": false, "grid": false, "title": null}}
 }},
{"data": {"name": "tGreen"}, "mark": {"type": "line", "color": "#00ff00", "strokeWidth": 1.6, "strokeDash": [6, 6], "strokeDashOffset": 4, "clip": true},
 "encoding": {
  "x": {"field": "w", "type": "quantitative", "axis": null},
  "y": {"field": "f", "type": "quantitative", "axis": null}
 }},
{"data": {"name": "tBlue"}, "mark": {"type": "line", "color": "#0000ff", "strokeWidth": 1.6, "strokeDash": [6, 6], "strokeDashOffset": 8, "clip": true},
 "encoding": {
  "x": {"field": "w", "type": "quantitative", "axis": null},
  "y": {"field": "f", "type": "quantitative", "axis": null}
 }},
{"data": {"name": "tMark"}, "mark": {"type": "rule", "color": "black", "strokeWidth": 1.2, "strokeDash": [1.5, 3.5]},
 "encoding": {
  "x": {"field": "w", "type": "quantitative", "axis": null},
  "y": {"field": "lo", "type": "quantitative", "axis": null},
  "y2": {"field": "hi"}
 }}
]
},
{
"width": 565, "height": 151,
"resolve": {"axis": {"x": "independent", "y": "independent"}},
"layer": [
{"data": {"name": "bObs"}, "mark": {"type": "line", "color": "black", "strokeWidth": 1.1, "clip": true},
 "encoding": {
  "x": {"field": "w", "type": "quantitative", "scale": {"domain": [4450, 4700], "nice": false, "zero": false},
   "axis": {"orient": "bottom", "values": [4450,4460,4470,4480,4490,4500,4510,4520,4530,4540,4550,4560,4570,4580,4590,4600,4610,4620,4630,4640,4650,4660,4670,4680,4690,4700], "format": "d", "labelExpr": "datum.value % 50 === 0 ? datum.label : ''", "tickSize": {"condition": {"test": "datum.value % 50 === 0", "value": -5}, "value": -3}, "tickColor": "black", "domain": false, "grid": false, "title": "WAVELENGTH (A)", "titleFont": "DejaVu Sans", "titleFontSize": 15, "titleFontWeight": "normal", "titleColor": "black", "titlePadding": 2, "labelFont": "DejaVu Sans", "labelFontSize": 17, "labelColor": "black", "labelPadding": 18, "labelFlush": false, "labelOverlap": false}},
  "y": {"field": "f", "type": "quantitative", "scale": {"domain": [0.85, 1.052], "nice": false, "zero": false},
   "axis": {"orient": "left", "values": [0.85, 0.9, 0.95, 1.0], "format": ".2f", "tickSize": -11, "tickColor": "black", "domain": false, "grid": false, "title": "RELATIVE FLUX", "titleFont": "DejaVu Sans", "titleFontSize": 15, "titleFontWeight": "normal", "titleColor": "black", "titlePadding": 14, "labelFont": "DejaVu Sans", "labelFontSize": 17, "labelColor": "black", "labelPadding": 18, "labelFlush": false, "labelOverlap": false}}
 }},
{"data": {"name": "bRed"}, "mark": {"type": "line", "color": "#ff0000", "strokeWidth": 1.6, "strokeDash": [6, 6], "strokeDashOffset": 0, "clip": true},
 "encoding": {
  "x": {"field": "w", "type": "quantitative", "scale": {"domain": [4450, 4700], "nice": false, "zero": false},
   "axis": {"orient": "top", "values": [4450,4460,4470,4480,4490,4500,4510,4520,4530,4540,4550,4560,4570,4580,4590,4600,4610,4620,4630,4640,4650,4660,4670,4680,4690,4700], "labels": false, "tickSize": {"condition": {"test": "datum.value % 50 === 0", "value": -5}, "value": -3}, "tickColor": "black", "domain": false, "grid": false, "title": null}},
  "y": {"field": "f", "type": "quantitative", "scale": {"domain": [0.85, 1.052], "nice": false, "zero": false},
   "axis": {"orient": "right", "values": [0.85, 0.9, 0.95, 1.0], "labels": false, "tickSize": -11, "tickColor": "black", "domain": false, "grid": false, "title": null}}
 }},
{"data": {"name": "bGreen"}, "mark": {"type": "line", "color": "#00ff00", "strokeWidth": 1.6, "strokeDash": [6, 6], "strokeDashOffset": 4, "clip": true},
 "encoding": {
  "x": {"field": "w", "type": "quantitative", "axis": null},
  "y": {"field": "f", "type": "quantitative", "axis": null}
 }},
{"data": {"name": "bBlue"}, "mark": {"type": "line", "color": "#0000ff", "strokeWidth": 1.6, "strokeDash": [6, 6], "strokeDashOffset": 8, "clip": true},
 "encoding": {
  "x": {"field": "w", "type": "quantitative", "axis": null},
  "y": {"field": "f", "type": "quantitative", "axis": null}
 }},
{"data": {"name": "bMark"}, "mark": {"type": "rule", "color": "black", "strokeWidth": 1.2, "strokeDash": [1.5, 3.5]},
 "encoding": {
  "x": {"field": "w", "type": "quantitative", "axis": null},
  "y": {"field": "lo", "type": "quantitative", "axis": null},
  "y2": {"field": "hi"}
 }}
]
}
]
}
